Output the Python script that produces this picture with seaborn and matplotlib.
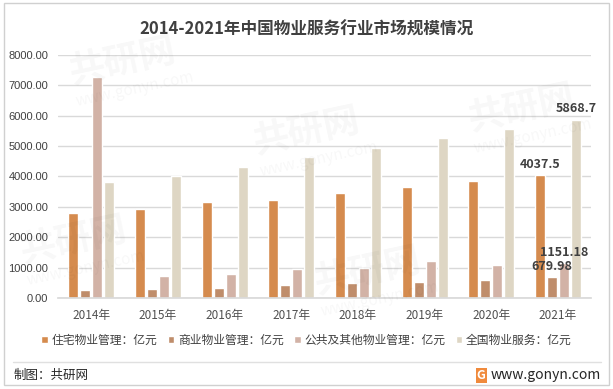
import pandas as pd
import matplotlib.pyplot as plt
import seaborn as sns
from matplotlib.patches import Rectangle
from matplotlib.lines import Line2D

# Data
years = ["2014年", "2015年", "2016年", "2017年", "2018年", "2019年", "2020年", "2021年"]
residential = [2806, 2937, 3167, 3233, 3464, 3661, 3858, 4037.5]
commercial = [273, 306, 339, 437, 481, 536, 602, 679.98]
public = [7285, 734, 800, 963, 997, 1227, 1095, 1151.18]
national = [3830, 4023, 4319, 4648, 4944, 5273, 5569, 5868.7]

series_names = ["住宅物业管理：亿元", "商业物业管理：亿元", "公共及其他物业管理：亿元", "全国物业服务：亿元"]
colors = ["#D58B4E", "#BF8D6B", "#D2B2A6", "#DED6C4"]

df = pd.DataFrame({
    "year": years * 4,
    "series": sum([[s] * len(years) for s in series_names], []),
    "value": residential + commercial + public + national,
})

sns.set_theme(style="white")
plt.rcParams["font.family"] = ["Noto Sans CJK SC", "DejaVu Sans"]

fig = plt.figure(figsize=(6.13, 3.89), dpi=100)
ax = fig.add_axes([0.0946, 0.234, 0.870, 0.625])

sns.barplot(data=df, x="year", y="value", hue="series", palette=colors,
            width=0.72, gap=0.17, ax=ax, saturation=1, legend=True)

ax.set_ylim(0, 8000)
ax.set_yticks(range(0, 8001, 1000))
ax.set_yticklabels([f"{v:.2f}" for v in range(0, 8001, 1000)], fontsize=8,
                   color="#404040", family="Liberation Sans")
ax.tick_params(axis="x", labelsize=8.5, colors="#505050", length=0, pad=8)
ax.tick_params(axis="y", length=0, pad=7)
ax.set_xlabel("")
ax.set_ylabel("")
ax.grid(axis="y", color="#D9D9D9", linewidth=1)
ax.set_axisbelow(True)
for side in ["top", "right", "left"]:
    ax.spines[side].set_visible(False)
ax.spines["bottom"].set_color("#D9D9D9")
ax.set_xlim(-0.5, len(years) - 0.5)

# value labels on the last year only
for cont in ax.containers:
    bar = cont.patches[-1]
    h = bar.get_height()
    ax.annotate(f"{h:g}", (bar.get_x() + bar.get_width() / 2, h),
                xytext=(0, 3), textcoords="offset points", ha="center", va="bottom",
                fontsize=9, fontweight="bold", color="#404040")

handles, labels = ax.get_legend_handles_labels()
ax.legend_.remove()
fig.legend(handles, labels, loc="center", bbox_to_anchor=(0.5, 0.126), ncol=4,
           frameon=False, fontsize=8.5, handlelength=0.55, handleheight=0.55,
           handletextpad=0.3, columnspacing=0.9, labelcolor="#404040")

fig.text(0.5, 0.925, "2014-2021年中国物业服务行业市场规模情况", ha="center", va="center",
         fontsize=12, fontweight="bold", color="#404040")

# footer
fig.add_artist(Line2D([0.022, 0.98], [0.07, 0.07], color="#E0E0E0", linewidth=1,
                      transform=fig.transFigure))
fig.text(0.022, 0.035, "制图：共研网", ha="left", va="center", fontsize=9, color="#262626")
fig.text(0.785, 0.035, "G", ha="center", va="center", fontsize=9, fontweight="bold",
         color="white", bbox=dict(boxstyle="square,pad=0.1", fc="#F08A3C", ec="none"))
fig.text(0.98, 0.035, "www.gonyn.com", ha="right", va="center", fontsize=10, color="#262626")

# faint watermarks
for (x, y) in [(0.2, 0.84), (0.5, 0.66), (0.85, 0.72), (0.6, 0.3), (0.12, 0.38)]:
    fig.text(x, y, "共研网", ha="center", va="center", fontsize=26, fontweight="bold",
             color="#000000", alpha=0.03, rotation=12)
    fig.text(x + 0.02, y - 0.07, "www.gonyn.com", ha="center", va="center", fontsize=11,
             color="#000000", alpha=0.03, rotation=12)

# outer border
fig.add_artist(Rectangle((0.006, 0.01), 0.988, 0.982, transform=fig.transFigure,
                         fill=False, edgecolor="#D0D0D0", linewidth=1))

fig.savefig("out.png", dpi=100)
